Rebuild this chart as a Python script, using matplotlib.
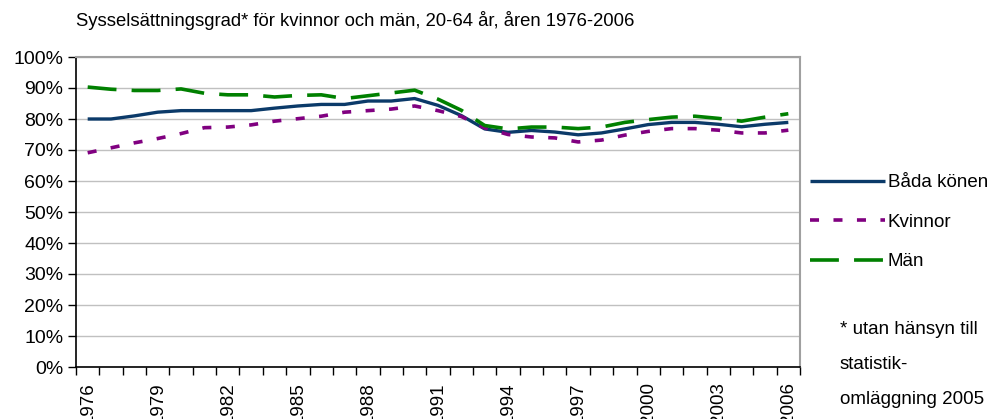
import matplotlib
matplotlib.use("Agg")
import matplotlib.pyplot as plt
import numpy as np
from matplotlib.ticker import FixedLocator, PercentFormatter

plt.rcParams['font.family'] = ['Liberation Sans', 'DejaVu Sans']

# data (employment rate, %, 20-64 years)
years = list(range(1976, 2007))
both = [80.0, 80.0, 81.0, 82.2, 82.7, 82.7, 82.7, 82.7, 83.5, 84.2, 84.7,
        84.7, 85.8, 85.8, 86.6, 84.4, 81.1, 76.8, 75.7, 76.3, 75.8, 74.9,
        75.5, 76.8, 78.2, 78.9, 78.9, 78.3, 77.5, 78.3, 78.9]
women = [69.1, 70.7, 72.3, 73.7, 75.3, 77.2, 77.4, 78.1, 79.3, 80.1, 80.9,
         82.2, 82.7, 83.2, 84.2, 82.7, 80.8, 77.1, 75.0, 74.2, 73.9, 72.6,
         73.2, 74.8, 76.0, 76.9, 76.9, 76.4, 75.5, 75.5, 76.4]
men = [90.3, 89.6, 89.2, 89.2, 89.7, 88.3, 87.8, 87.8, 87.1, 87.6, 87.8,
       86.6, 87.5, 88.4, 89.3, 86.4, 82.8, 77.9, 76.8, 77.4, 77.4, 76.9,
       77.4, 78.9, 79.8, 80.6, 80.9, 80.2, 79.3, 80.6, 81.7]
labels = ['Båda könen', 'Kvinnor', 'Män']
title = 'Sysselsättningsgrad* för kvinnor och män, 20-64 år, åren 1976-2006'
note = '* utan hänsyn till\nstatistik-\nomläggning 2005'

fs = 13.5

fig = plt.figure(figsize=(9.88, 4.19), dpi=100)
ax = fig.add_axes([76 / 988, 52 / 419, 724 / 988, 310 / 419])

x = np.arange(len(years))
l1, = ax.plot(x, both, color='#0b3a69', lw=2.4, solid_capstyle='butt')
l2, = ax.plot(x, women, color='#800080', lw=2.6, dashes=(2.5, 4), dash_capstyle='butt')
l3, = ax.plot(x, men, color='#008000', lw=2.6, dashes=(8, 4.2), dash_capstyle='butt')

ax.set_xlim(-0.5, len(years) - 0.5)
ax.set_ylim(0, 100)
ax.set_yticks(np.arange(0, 101, 10))
ax.yaxis.set_major_formatter(PercentFormatter(decimals=0))
ax.grid(axis='y', color='#c0c0c0', lw=1)
ax.set_axisbelow(True)

# labels on every third category, tick marks between categories
ax.set_xticks(x[::3])
ax.set_xticklabels([str(y) for y in years[::3]], rotation=90, va='top')
ax.xaxis.set_minor_locator(FixedLocator(np.arange(-0.5, len(years), 1)))
ax.tick_params(axis='x', which='major', length=0, pad=11, labelsize=fs)
ax.tick_params(axis='x', which='minor', length=6, width=1, color='black', direction='out')
ax.tick_params(axis='y', length=6, width=1, direction='out', labelsize=fs + 0.5, pad=3)

for side in ('top', 'right'):
    ax.spines[side].set_color('#a0a0a0')
    ax.spines[side].set_linewidth(1.5)
for side in ('left', 'bottom'):
    ax.spines[side].set_color('black')
    ax.spines[side].set_linewidth(1.2)

fig.text(76 / 988, 1 - 20 / 419, title, fontsize=fs - 0.2, va='center', ha='left')

fig.legend([l1, l2, l3], labels, loc='upper left', bbox_to_anchor=(810 / 988, 1 - 174 / 419),
           frameon=False, fontsize=fs, handlelength=4.0, handletextpad=0.15,
           labelspacing=1.2, borderaxespad=0, borderpad=0)

fig.text(840 / 988, 1 - 321 / 419, note, fontsize=fs, va='top', ha='left', linespacing=2.4)

fig.savefig('out.png', dpi=100)
